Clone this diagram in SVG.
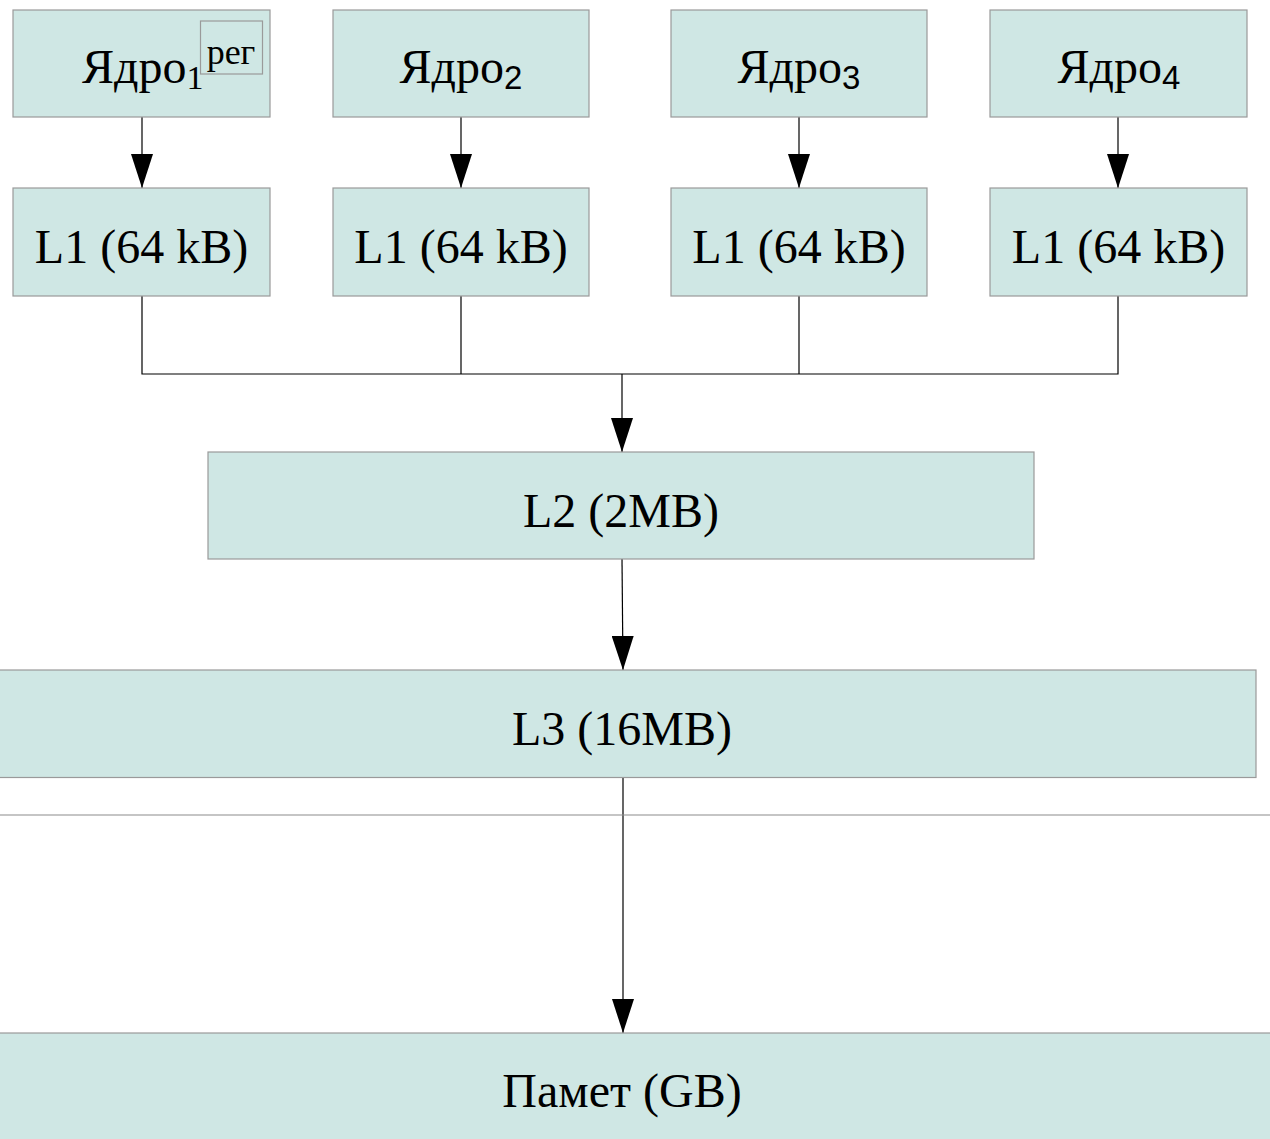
<svg xmlns="http://www.w3.org/2000/svg" width="1270" height="1139" viewBox="0 0 1270 1139">
<style>
.box{fill:#cfe7e4;stroke:#9a9a9a;stroke-width:1.2}
.t{font-family:"Liberation Serif","Times New Roman",serif;font-size:48px;fill:#000}
.sub{font-family:"Liberation Sans",Arial,sans-serif;font-size:33px}
.subs{font-family:"Liberation Serif",serif;font-size:34px}
.c{fill:none;stroke:#000;stroke-width:1.2}
</style>
<defs>
<marker id="ah" markerUnits="userSpaceOnUse" markerWidth="34" markerHeight="22" refX="34" refY="11" orient="auto" viewBox="0 0 34 22">
<path d="M0,0 L34,11 L0,22 Z" fill="#000"/>
</marker>
</defs>
<rect width="1270" height="1139" fill="#fff"/>
<g id="connectors">
<line class="c" x1="142" y1="117" x2="142" y2="188" marker-end="url(#ah)"/>
<line class="c" x1="461" y1="117" x2="461" y2="188" marker-end="url(#ah)"/>
<line class="c" x1="799" y1="117" x2="799" y2="188" marker-end="url(#ah)"/>
<line class="c" x1="1118" y1="117" x2="1118" y2="188" marker-end="url(#ah)"/>
<polyline class="c" points="142,296 142,374 1118,374 1118,296"/>
<line class="c" x1="461" y1="296" x2="461" y2="374"/>
<line class="c" x1="799" y1="296" x2="799" y2="374"/>
<line class="c" x1="622" y1="374" x2="622" y2="452" marker-end="url(#ah)"/>
<line class="c" x1="622" y1="559" x2="623" y2="670" marker-end="url(#ah)"/>
<line class="c" x1="623" y1="778" x2="623" y2="1033" marker-end="url(#ah)"/>
</g>
<line x1="0" y1="815" x2="1270" y2="815" stroke="#8c8c8c" stroke-width="1.2"/>
<g id="core1">
<rect class="box" x="13" y="10" width="257" height="107"/>
<text class="t" x="82" y="83">Ядро<tspan class="subs" dy="6">1</tspan></text>
<g id="reg">
<rect class="box" x="200.5" y="21" width="62" height="53"/>
<text class="t" x="231" y="64" text-anchor="middle" style="font-size:36px">рег</text>
</g>
</g>
<g id="core2">
<rect class="box" x="333" y="10" width="256" height="107"/>
<text class="t" x="461" y="83" text-anchor="middle">Ядро<tspan class="sub" dy="6">2</tspan></text>
</g>
<g id="core3">
<rect class="box" x="671" y="10" width="256" height="107"/>
<text class="t" x="799" y="83" text-anchor="middle">Ядро<tspan class="sub" dy="6">3</tspan></text>
</g>
<g id="core4">
<rect class="box" x="990" y="10" width="257" height="107"/>
<text class="t" x="1119" y="83" text-anchor="middle">Ядро<tspan class="sub" dy="6">4</tspan></text>
</g>
<g id="l1a">
<rect class="box" x="13" y="188" width="257" height="108"/>
<text class="t" x="141.5" y="263" text-anchor="middle">L1 (64 kB)</text>
</g>
<g id="l1b">
<rect class="box" x="333" y="188" width="256" height="108"/>
<text class="t" x="461" y="263" text-anchor="middle">L1 (64 kB)</text>
</g>
<g id="l1c">
<rect class="box" x="671" y="188" width="256" height="108"/>
<text class="t" x="799" y="263" text-anchor="middle">L1 (64 kB)</text>
</g>
<g id="l1d">
<rect class="box" x="990" y="188" width="257" height="108"/>
<text class="t" x="1118.5" y="263" text-anchor="middle">L1 (64 kB)</text>
</g>
<g id="l2">
<rect class="box" x="208" y="452" width="826" height="107"/>
<text class="t" x="621" y="527" text-anchor="middle">L2 (2MB)</text>
</g>
<g id="l3">
<rect class="box" x="-1" y="670" width="1257" height="107.5"/>
<text class="t" x="622" y="745" text-anchor="middle">L3 (16MB)</text>
</g>
<g id="mem">
<rect class="box" x="-1" y="1033" width="1273" height="110"/>
<text class="t" x="622" y="1107" text-anchor="middle">Памет (GB)</text>
</g>
</svg>
